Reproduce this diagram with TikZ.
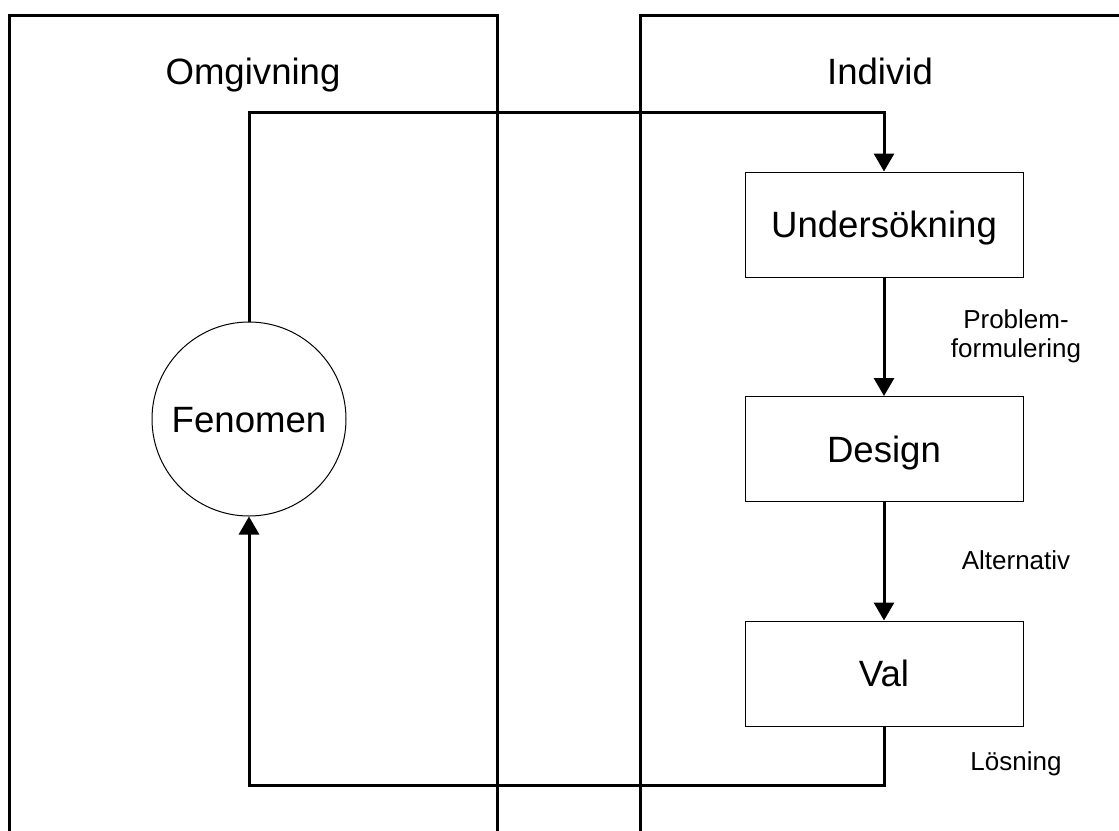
\documentclass[tikz,border=0pt]{standalone}
\usepackage{fontspec}
\setmainfont{Liberation Sans}
\usetikzlibrary{arrows.meta}
\begin{document}
\begin{tikzpicture}[x=1pt,y=-1pt,
  panel/.style={line width=3pt,line join=miter},
  box/.style={draw,line width=1pt,minimum width=278pt,minimum height=105pt,inner sep=0pt,text height=26.2pt,text depth=0pt,font=\fontsize{36.6}{44}\selectfont},
  circ/.style={draw,circle,line width=1pt,minimum size=194pt,inner sep=0pt,text height=26.2pt,text depth=0pt,font=\fontsize{36.6}{44}\selectfont},
  title/.style={anchor=base,inner sep=0pt,font=\fontsize{36.6}{44}\selectfont},
  lbl/.style={align=center,inner sep=0pt,font=\fontsize{26}{29}\selectfont},
  arr/.style={line width=3pt,-{Triangle[width=20pt,length=18pt]}}]
\useasboundingbox (0,0) rectangle (1119,830);
% panels
\draw[panel] (9,832) -- (9,15) -- (497,15) -- (497,832);
\draw[panel] (640,832) -- (640,15) -- (1121,15);
\node[title] (omg) at (253,84) {Omgivning};
\node[title] (ind) at (880,84) {Individ};
% nodes
\node[circ] (fen) at (249,419) {Fenomen};
\node[box] (und) at (884,224.5) {Undersökning};
\node[box] (des) at (884,449) {Design};
\node[box] (val) at (884,673.5) {Val};
% labels
\node[lbl] (l1) at (1016,336) {Problem-\\formulering};
\node[lbl] (l2) at (1016,560) {Alternativ};
\node[lbl] (l3) at (1016,764) {Lösning};
% connectors
\coordinate (tl) at (249,112);
\coordinate (bl) at (249,785);
\draw[arr] (fen.north) -- (tl) -| (und.north);
\draw[arr] (und.south) -- (des.north);
\draw[arr] (des.south) -- (val.north);
\draw[arr] (val.south) |- (bl) -- (fen.south);
\end{tikzpicture}
\end{document}
